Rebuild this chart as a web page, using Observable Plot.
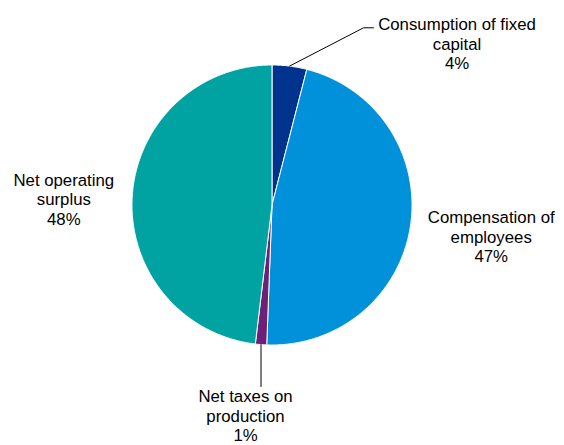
<!DOCTYPE html>
<html>
<head>
<meta charset="utf-8">
<script src="https://cdn.jsdelivr.net/npm/d3@7"></script>
<script src="https://cdn.jsdelivr.net/npm/@observablehq/plot@0.6"></script>
<style>
  html, body { margin: 0; padding: 0; background: #fff; }
  #chart svg { display: block; }
</style>
</head>
<body>
<div id="chart"></div>
<script>
// ---- Data ----
const categories = ["Consumption of fixed capital", "Compensation of employees", "Net taxes on production", "Net operating surplus"];
const values = [4.0, 46.6, 1.3, 48.1];
const pctLabels = ["4%", "47%", "1%", "48%"];
const labelNames = ["Consumption of fixed\ncapital", "Compensation of\nemployees", "Net taxes on\nproduction", "Net operating\nsurplus"];
const colors = ["#00338D", "#0091DA", "#6D2077", "#00A3A1"];

// ---- Layout ----
const R = 140;
const labelPos = [
  {x: 185, y: -161.5},
  {x: 219.2, y: 31.5},
  {x: -26.5, y: 210.5},
  {x: -208.2, y: -6.1}
];

const arcs = d3.pie().sort(null).value(d => d)(values);

// slice polygons (center + arc points)
const slicePts = [];
arcs.forEach((a, i) => {
  const name = categories[i];
  const n = Math.max(2, Math.ceil((a.endAngle - a.startAngle) / (Math.PI / 360)));
  slicePts.push({name, x: 0, y: 0});
  for (let k = 0; k <= n; k++) {
    const t = a.startAngle + (a.endAngle - a.startAngle) * k / n;
    slicePts.push({name, x: R * Math.sin(t), y: -R * Math.cos(t)});
  }
  slicePts.push({name, x: 0, y: 0});
});

const mid = i => (arcs[i].startAngle + arcs[i].endAngle) / 2;
const edge = i => ({x: R * Math.sin(mid(i)), y: -R * Math.cos(mid(i))});

// leader lines
const leaders = [];
{
  const p = edge(0);
  leaders.push({id: 0, x: p.x, y: p.y}, {id: 0, x: 91.5, y: -177.2}, {id: 0, x: 101.5, y: -177.2});
  const q = edge(2);
  leaders.push({id: 2, x: q.x, y: q.y}, {id: 2, x: q.x, y: 181.5});
}

const labels = categories.map((c, i) => ({
  text: labelNames[i] + "\n" + pctLabels[i],
  x: labelPos[i].x,
  y: labelPos[i].y
}));

const chart = Plot.plot({
  width: 564,
  height: 445,
  margin: 0,
  style: {fontFamily: "'Liberation Sans', Arial, sans-serif", background: "#fff", overflow: "visible"},
  x: {domain: [-271.5, 292.5], range: [0, 564], axis: null},
  y: {domain: [-204.5, 240.5], range: [0, 445], axis: null},
  color: {domain: categories, range: colors},
  marks: [
    Plot.line(slicePts, {x: "x", y: "y", z: "name", fill: "name", stroke: "#fff", strokeWidth: 1, strokeLinejoin: "round", curve: "linear"}),
    Plot.line(leaders, {x: "x", y: "y", z: "id", stroke: "#000", strokeWidth: 1}),
    Plot.text(labels, {x: "x", y: "y", text: "text", fontSize: 16.8, lineHeight: 1.16, textAnchor: "middle", fill: "#000"})
  ]
});
document.getElementById("chart").appendChild(chart);
</script>
</body>
</html>
